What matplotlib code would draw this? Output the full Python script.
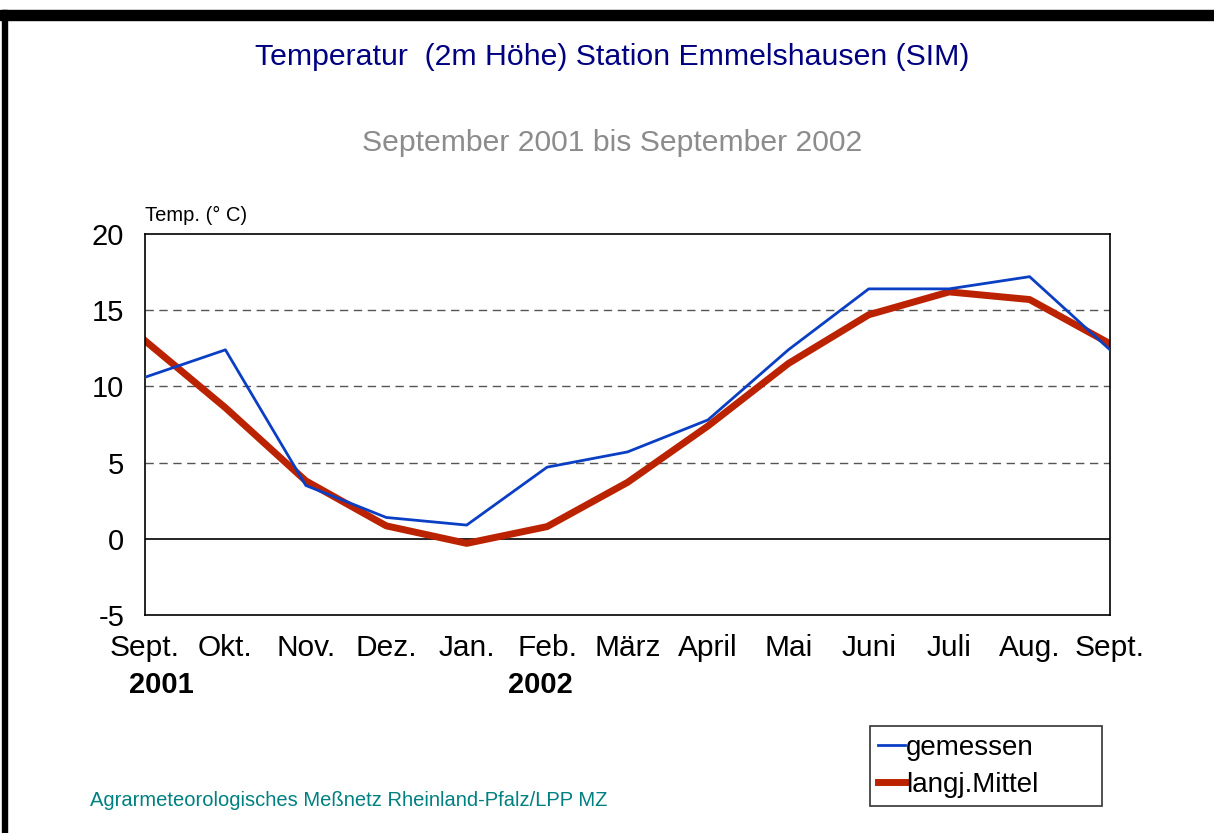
import matplotlib
matplotlib.use("Agg")
import matplotlib.pyplot as plt
from matplotlib.patches import Rectangle

plt.rcParams['font.family'] = ['Liberation Sans', 'DejaVu Sans']

# Daten
monate = ["Sept.", "Okt.", "Nov.", "Dez.", "Jan.", "Feb.", "März", "April",
          "Mai", "Juni", "Juli", "Aug.", "Sept."]
gemessen = [10.6, 12.4, 3.5, 1.4, 0.9, 4.7, 5.7, 7.8, 12.4, 16.4, 16.4, 17.2, 12.4]
mittel = [13.0, 8.6, 3.8, 0.85, -0.3, 0.8, 3.7, 7.4, 11.5, 14.7, 16.2, 15.7, 12.8]
jahre = ["2001", "2002"]
jahr_pos = [0.2, 4.92]

W, H = 1214, 833
fig = plt.figure(figsize=(W / 100, H / 100), dpi=100)

# schwarzer Rahmen oben und links
fig.patches.append(Rectangle((0, 1 - 20 / H), 1, 10 / H, transform=fig.transFigure,
                             color='black', zorder=5))
fig.patches.append(Rectangle((2 / W, 0), 5 / W, 1 - 10 / H, transform=fig.transFigure,
                             color='black', zorder=5))

ax = fig.add_axes([145 / W, 1 - 615 / H, (1110 - 145) / W, (615 - 234) / H])
x = list(range(len(monate)))

for v in [5, 10, 15]:
    ax.axhline(v, color='#555555', lw=1, ls=(0, (6, 4)), zorder=1)
ax.axhline(0, color='black', lw=1.2, zorder=1)

l1, = ax.plot(x, gemessen, color='#0a3fc4', lw=2.0, zorder=3, label='gemessen')
l2, = ax.plot(x, mittel, color='#bb2200', lw=5.0, zorder=2, label='langj.Mittel')

ax.set_xlim(0, 12)
ax.set_ylim(-5, 20)
ax.set_yticks([-5, 0, 5, 10, 15, 20])
ax.set_yticklabels(["-5", "0", "5", "10", "15", "20"], fontsize=21)
ax.tick_params(axis='y', length=0, pad=15)
ax.set_xticks(x)
ax.set_xticklabels(monate, fontsize=21.5)
ax.tick_params(axis='x', length=0, pad=14)
for s in ax.spines.values():
    s.set_color('black')
    s.set_linewidth(1.2)

for p, j in zip(jahr_pos, jahre):
    ax.text(p, -9.6, j, fontsize=21, fontweight='bold', ha='center', va='center')

ax.text(0, 20.6, "Temp. (° C)", fontsize=14.5, ha='left', va='bottom')

fig.text(612 / W, 1 - 57 / H, "Temperatur  (2m Höhe) Station Emmelshausen (SIM)",
         fontsize=21.8, color='#000080', ha='center', va='center')
fig.text(612 / W, 1 - 143 / H, "September 2001 bis September 2002",
         fontsize=21.7, color='#8c8c8c', ha='center', va='center')
fig.text(90 / W, 1 - 801 / H, "Agrarmeteorologisches Meßnetz Rheinland-Pfalz/LPP MZ",
         fontsize=14.5, color='#008080', ha='left', va='center')

leg = fig.legend(handles=[l1, l2], loc='lower left',
                 bbox_to_anchor=(870 / W, 1 - 806 / H, (1102 - 870) / W, (806 - 728) / H),
                 mode='expand', fontsize=20, frameon=True, fancybox=False,
                 edgecolor='black', handlelength=0.95, handletextpad=0.05,
                 borderpad=0.3, labelspacing=0.4, borderaxespad=0)
leg.get_frame().set_linewidth(1.2)

fig.savefig("out.png", dpi=100)
